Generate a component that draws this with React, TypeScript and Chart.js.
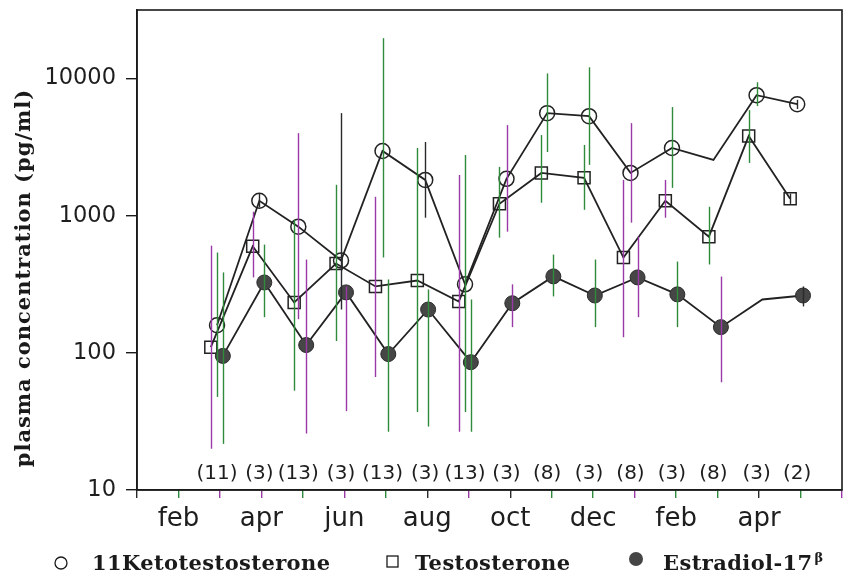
import React, { useEffect, useRef } from 'react';
import { Chart, registerables } from 'chart.js';

Chart.register(...registerables);

// Month index: 0 = jan (first year) ... 17 = jun (second year)
const monthNames = ['jan', 'feb', 'mar', 'apr', 'may', 'jun', 'jul', 'aug', 'sep', 'oct', 'nov', 'dec', 'jan', 'feb', 'mar', 'apr', 'may', 'jun'];
const labelledMonths = [1, 3, 5, 7, 9, 11, 13, 15];
const yTickValues = [10, 100, 1000, 10000];
const sampleSizes = ['(11)', '(3)', '(13)', '(3)', '(13)', '(3)', '(13)', '(3)', '(8)', '(3)', '(8)', '(3)', '(8)', '(3)', '(2)'];
const sampleSizeX = [1.93, 2.95, 3.89, 4.92, 5.92, 6.95, 7.91, 8.91, 9.89, 10.9, 11.9, 12.9, 13.9, 14.94, 15.92];
const sampleSizeLevel = 13.1;

// 11-Ketotestosterone
const ktX = [1.93, 2.95, 3.89, 4.92, 5.92, 6.95, 7.91, 8.91, 9.89, 10.9, 11.9, 12.9, 13.9, 14.94, 15.92];
const ktY = [159, 1285, 832, 471, 2965, 1824, 316, 1858, 5598, 5320, 2052, 3118, 2551, 7568, 6500];
const ktHi = [539, 1450, 4000, 5600, 19700, 3450, 2770, 4580, 10900, 12080, 4730, 6195, null, 9400, 7000];
const ktLo = [47.7, 1150, 176, 207, 496, 967, 37, 765, 2915, 2347, 890, 1597, null, 6300, 6000];
const ktMarker = [1, 1, 1, 1, 1, 1, 1, 1, 1, 1, 1, 1, 0, 1, 1];
const ktBarColor = ['g', 'k', 'p', 'k', 'g', 'k', 'g', 'p', 'g', 'g', 'p', 'g', 'k', 'g', 'k'];

// Testosterone
const tX = [1.78, 2.79, 3.79, 4.8, 5.75, 6.76, 7.76, 8.74, 9.75, 10.78, 11.73, 12.74, 13.79, 14.75, 15.75];
const tY = [110, 598, 233, 448, 305, 337, 237, 1222, 2050, 1889, 495, 1285, 703, 3810, 1329];
const tHi = [605, 1069, 935, 1680, 1374, 3115, 1985, 2270, 3875, 3280, 1826, 1826, 1162, 5890, 1450];
const tLo = [20, 355, 53, 122, 66.7, 37, 26.6, 692, 1243, 1105, 130, 967, 441, 2426, 1220];
const tBarColor = ['p', 'p', 'g', 'g', 'p', 'g', 'p', 'g', 'g', 'g', 'p', 'p', 'g', 'g', 'k'];

// Estradiol-17beta
const eX = [2.07, 3.07, 4.08, 5.04, 6.06, 7.02, 8.05, 9.05, 10.04, 11.04, 12.07, 13.03, 14.08, 15.08, 16.06];
const eY = [95, 326, 114, 276, 98, 207, 85.5, 230, 361, 262, 355, 267, 154, 245, 262];
const eHi = [386, 616, 479, 305, 343, 290, 245, 316, 521, 479, 704, 463, 360, null, 305];
const eLo = [21.7, 182, 25.8, 37.6, 26.6, 29, 26.6, 154, 258, 154, 182, 154, 61, null, 218];
const eMarker = [1, 1, 1, 1, 1, 1, 1, 1, 1, 1, 1, 1, 1, 0, 1];
const eBarColor = ['g', 'g', 'p', 'p', 'g', 'g', 'g', 'p', 'g', 'g', 'p', 'g', 'p', 'k', 'k'];

const xTickColor = ['k', 'g', 'p', 'p', 'g', 'p', 'g', 'k', 'p', 'k', 'g', 'g', 'p', 'g', 'g', 'k', 'g', 'p'];

const colorMap: Record<string, string> = { g: '#2f8a3c', p: '#9a3aa6', k: '#2a2a2a' };

const barSeries = [
  { x: ktX, hi: ktHi, lo: ktLo, c: ktBarColor },
  { x: tX, hi: tHi, lo: tLo, c: tBarColor },
  { x: eX, hi: eHi, lo: eLo, c: eBarColor },
];

const errorBarPlugin = {
  id: 'errorBars',
  afterDatasetsDraw(chart: any) {
    const { ctx, chartArea } = chart;
    const xs = chart.scales.x;
    const ys = chart.scales.y;
    ctx.save();
    ctx.beginPath();
    ctx.rect(chartArea.left, chartArea.top, chartArea.right - chartArea.left, chartArea.bottom - chartArea.top);
    ctx.clip();
    ctx.lineWidth = 1.4;
    barSeries.forEach((s) => {
      s.x.forEach((xv, i) => {
        const hi = s.hi[i];
        const lo = s.lo[i];
        if (hi == null || lo == null) return;
        const px = Math.round(xs.getPixelForValue(xv)) + 0.5;
        ctx.strokeStyle = colorMap[s.c[i]];
        ctx.beginPath();
        ctx.moveTo(px, ys.getPixelForValue(hi));
        ctx.lineTo(px, ys.getPixelForValue(lo));
        ctx.stroke();
      });
    });
    ctx.restore();
  },
};

const decorPlugin = {
  id: 'decor',
  afterDraw(chart: any) {
    const { ctx, chartArea } = chart;
    const xs = chart.scales.x;
    const ys = chart.scales.y;
    ctx.save();
    // frame
    ctx.strokeStyle = '#1a1a1a';
    ctx.lineWidth = 1.6;
    ctx.strokeRect(chartArea.left, chartArea.top, chartArea.right - chartArea.left, chartArea.bottom - chartArea.top);

    // sample sizes
    ctx.fillStyle = '#1e1e1e';
    ctx.font = '20px "DejaVu Sans"';
    ctx.textAlign = 'center';
    ctx.textBaseline = 'middle';
    const ny = ys.getPixelForValue(sampleSizeLevel);
    sampleSizes.forEach((t, i) => {
      ctx.fillText(t, xs.getPixelForValue(sampleSizeX[i]), ny);
    });

    // y-axis title
    ctx.save();
    ctx.translate(25, 278);
    ctx.rotate(-Math.PI / 2);
    ctx.font = 'bold 21px "DejaVu Serif"';
    (ctx as any).letterSpacing = '1px';
    ctx.textAlign = 'center';
    ctx.textBaseline = 'middle';
    ctx.fillStyle = '#1a1a1a';
    ctx.fillText('plasma concentration (pg/ml)', 0, 0);
    ctx.restore();

    // legend
    ctx.textAlign = 'left';
    ctx.textBaseline = 'alphabetic';
    ctx.font = 'bold 21px "DejaVu Serif"';
    (ctx as any).letterSpacing = '0.4px';
    ctx.fillStyle = '#1a1a1a';
    ctx.strokeStyle = '#1a1a1a';
    ctx.lineWidth = 1.3;
    ctx.beginPath();
    ctx.arc(61, 563, 6, 0, Math.PI * 2);
    ctx.stroke();
    ctx.fillText('11Ketotestosterone', 92, 570);

    ctx.strokeRect(387, 556, 11, 11);
    ctx.fillText('Testosterone', 415, 570);

    ctx.fillStyle = '#454545';
    ctx.beginPath();
    ctx.arc(636, 559, 7, 0, Math.PI * 2);
    ctx.fill();
    ctx.fillStyle = '#1a1a1a';
    ctx.fillText('Estradiol-17', 663, 570);
    const w = ctx.measureText('Estradiol-17').width;
    ctx.font = 'bold 13px "DejaVu Serif"';
    ctx.fillText('\u03B2', 663 + w + 2, 562);
    ctx.restore();
  },
};

export default function App() {
  const ref = useRef<HTMLCanvasElement>(null);

  useEffect(() => {
    const pt = (xa: number[], ya: number[]) => xa.map((x, i) => ({ x, y: ya[i] }));
    const chart = new Chart(ref.current as HTMLCanvasElement, {
      type: 'line',
      data: {
        datasets: [
          {
            label: 'Estradiol-17\u03B2',
            data: pt(eX, eY),
            borderColor: '#222',
            borderWidth: 1.8,
            pointStyle: 'circle',
            pointRadius: (c: any) => (eMarker[c.dataIndex] ? 7.5 : 0),
            pointBackgroundColor: '#464646',
            pointBorderColor: '#2a2a2a',
            pointBorderWidth: 1,
            tension: 0,
          },
          {
            label: 'Testosterone',
            data: pt(tX, tY),
            borderColor: '#222',
            borderWidth: 1.8,
            pointStyle: 'rect',
            pointRadius: 8.5,
            pointBackgroundColor: 'rgba(0,0,0,0)',
            pointBorderColor: '#222',
            pointBorderWidth: 1.5,
            tension: 0,
          },
          {
            label: '11Ketotestosterone',
            data: pt(ktX, ktY),
            borderColor: '#222',
            borderWidth: 1.8,
            pointStyle: 'circle',
            pointRadius: (c: any) => (ktMarker[c.dataIndex] ? 7.5 : 0),
            pointBackgroundColor: 'rgba(0,0,0,0)',
            pointBorderColor: '#222',
            pointBorderWidth: 1.5,
            tension: 0,
          },
        ],
      },
      options: {
        animation: false,
        responsive: true,
        maintainAspectRatio: false,
        layout: { padding: { top: 9.5, right: 7, left: 0, bottom: 0 } },
        plugins: { legend: { display: false }, title: { display: false }, tooltip: { enabled: false } },
        scales: {
          x: {
            type: 'linear',
            min: 0,
            max: 17,
            afterFit: (s: any) => {
              s.height = 86;
              s.paddingLeft = 0;
              s.paddingRight = 0;
            },
            afterBuildTicks: (s: any) => {
              s.ticks = monthNames.map((_, i) => ({ value: i }));
            },
            grid: {
              drawOnChartArea: false,
              drawTicks: true,
              tickLength: 8,
              lineWidth: 1.4,
              color: (c: any) => colorMap[xTickColor[c.index] || 'k'],
            },
            border: { display: true, color: '#1a1a1a', width: 1.6 },
            ticks: {
              autoSkip: false,
              maxRotation: 0,
              padding: 6,
              color: '#1e1e1e',
              font: { family: '"DejaVu Sans"', size: 26 },
              callback: (v: any) => (labelledMonths.includes(Number(v)) ? monthNames[Number(v)] : ''),
            },
          },
          y: {
            type: 'logarithmic',
            min: 10,
            max: 31623,
            afterFit: (s: any) => {
              s.width = 137;
              s.paddingTop = 0;
              s.paddingBottom = 0;
            },
            afterBuildTicks: (s: any) => {
              s.ticks = yTickValues.map((v) => ({ value: v }));
            },
            grid: {
              drawOnChartArea: false,
              drawTicks: true,
              tickLength: 11,
              lineWidth: 1.4,
              color: '#1a1a1a',
            },
            border: { display: true, color: '#1a1a1a', width: 1.6 },
            ticks: {
              padding: 10,
              color: '#1e1e1e',
              font: { family: '"DejaVu Sans"', size: 22.5 },
              callback: (v: any) => String(v),
            },
          },
        },
      },
      plugins: [errorBarPlugin, decorPlugin],
    } as any);
    return () => chart.destroy();
  }, []);

  return (
    <div style={{ position: 'fixed', left: 0, top: 0, width: 852, height: 576, background: '#fff' }}>
      <canvas ref={ref} />
    </div>
  );
}
